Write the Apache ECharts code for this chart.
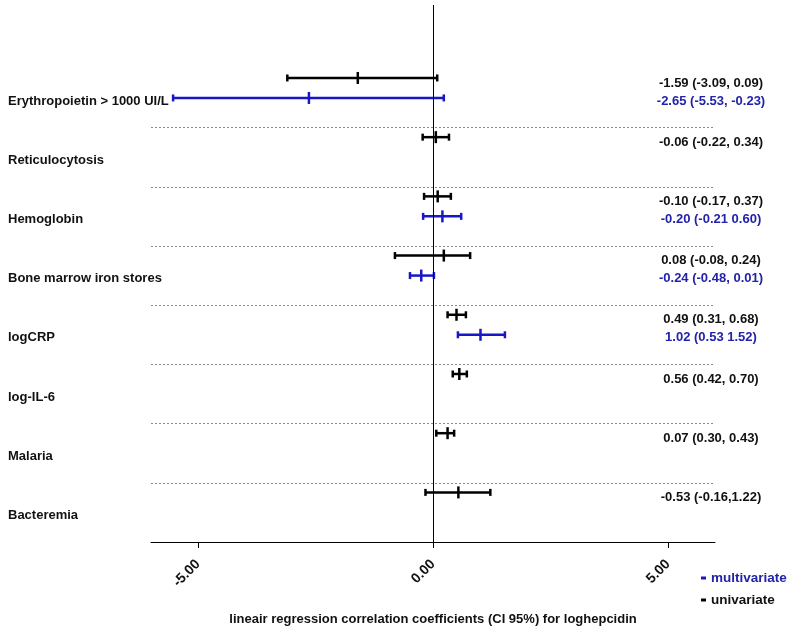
<!DOCTYPE html>
<html>
<head>
<meta charset="utf-8">
<script src="https://cdn.jsdelivr.net/npm/echarts@6/dist/echarts.min.js"></script>
<style>html,body{margin:0;padding:0;background:#fff}#c{width:791px;height:631px}</style>
</head>
<body>
<div id="c"></div>
<script>
const categories = ['Erythropoietin > 1000 UI/L','Reticulocytosis','Hemoglobin','Bone marrow iron stores','logCRP','log-IL-6','Malaria','Bacteremia'];
const uniEst = [-1.60, 0.06, 0.10, 0.23, 0.50, 0.56, 0.31, 0.54];
const uniLo  = [-3.10, -0.22, -0.19, -0.81, 0.31, 0.42, 0.07, -0.16];
const uniHi  = [0.09, 0.34, 0.38, 0.79, 0.70, 0.72, 0.45, 1.22];
const multiEst = [-2.64, null, 0.20, -0.25, 1.01, null, null, null];
const multiLo  = [-5.53, null, -0.21, -0.49, 0.53, null, null, null];
const multiHi  = [0.23, null, 0.60, 0.02, 1.53, null, null, null];
const uniText = ['-1.59 (-3.09, 0.09)','-0.06 (-0.22, 0.34)','-0.10 (-0.17, 0.37)','0.08 (-0.08, 0.24)','0.49 (0.31, 0.68)','0.56 (0.42, 0.70)','0.07 (0.30, 0.43)','-0.53 (-0.16,1.22)'];
const multiText = ['-2.65 (-5.53, -0.23)', null, '-0.20 (-0.21 0.60)', '-0.24 (-0.48, 0.01)', '1.02 (0.53 1.52)', null, null, null];
const xTicks = [-5, 0, 5];
const separators = [1, 2, 3, 4, 5, 6, 7];

const BLUE = '#1717c8';
const BLUE_TXT = '#2222aa';
const FONT = '"Liberation Sans", Arial, sans-serif';

function makeRender(color, txtColor, dy, tdy) {
  return function (params, api) {
    const i = api.value(0);
    const lo = api.value(1), est = api.value(2), hi = api.value(3);
    const cy = api.coord([0, i + 0.5])[1] + dy;
    const xl = api.coord([lo, 0])[0], xm = api.coord([est, 0])[0], xh = api.coord([hi, 0])[0];
    const st = { stroke: color, lineWidth: 2.5 };
    const txtX = api.coord([6, 0])[0] - 4;
    const label = params.seriesName === 'univariate' ? uniText[i] : multiText[i];
    return {
      type: 'group',
      children: [
        { type: 'line', shape: { x1: xl, y1: cy, x2: xh, y2: cy }, style: st },
        { type: 'line', shape: { x1: xl, y1: cy - 3.5, x2: xl, y2: cy + 3.5 }, style: st },
        { type: 'line', shape: { x1: xh, y1: cy - 3.5, x2: xh, y2: cy + 3.5 }, style: st },
        { type: 'line', shape: { x1: xm, y1: cy - 6, x2: xm, y2: cy + 6 }, style: st },
        { type: 'text', style: { x: txtX, y: cy + tdy, text: label || '', fill: txtColor,
            font: 'bold 13px ' + FONT, textAlign: 'center', textVerticalAlign: 'middle' } }
      ]
    };
  };
}

const uniData = categories.map((c, i) => [i, uniLo[i], uniEst[i], uniHi[i]]);
const multiData = categories.map((c, i) => [i, multiLo[i], multiEst[i], multiHi[i]]).filter(d => d[2] !== null);

const chart = echarts.init(document.getElementById('c'));
chart.setOption({
  animation: false,
  backgroundColor: '#fff',
  grid: { left: 151, right: 76, top: 5, bottom: 82 },
  xAxis: {
    type: 'value', min: -6, max: 6,
    name: 'lineair regression correlation coefficients (CI 95%) for loghepcidin',
    nameLocation: 'middle', nameGap: 71,
    nameTextStyle: { fontFamily: FONT, fontWeight: 'bold', fontSize: 13, color: '#111' },
    axisLine: { show: true, onZero: false, lineStyle: { color: '#000', width: 1 } },
    axisTick: { show: true, length: 6, customValues: xTicks, lineStyle: { color: '#000' } },
    axisLabel: { show: true, customValues: xTicks, rotate: 45, margin: 20,
      formatter: v => v.toFixed(2), fontFamily: FONT, fontWeight: 'bold', fontSize: 14, color: '#111' },
    splitLine: { show: false }
  },
  yAxis: { type: 'value', inverse: true, min: -1.07, max: 8, show: false },
  legend: {
    orient: 'vertical', left: 696, top: 566, itemGap: 8,
    icon: 'rect', itemWidth: 5, itemHeight: 3,
    textStyle: { fontFamily: FONT, fontWeight: 'bold', fontSize: 13.5 },
    data: [
      { name: 'multivariate', textStyle: { color: BLUE_TXT } },
      { name: 'univariate', textStyle: { color: '#111' } }
    ]
  },
  series: [
    {
      name: 'univariate', type: 'custom', color: '#000', clip: false,
      renderItem: makeRender('#000', '#111', -20, 5),
      data: uniData,
      markLine: {
        silent: true, symbol: 'none', label: { show: false },
        data: separators.map(s => ({ yAxis: s, lineStyle: { color: '#8a8a8a', type: [2, 2], width: 1 } }))
          .concat([{ xAxis: 0, lineStyle: { color: '#000', type: 'solid', width: 1 } }])
      }
    },
    {
      name: 'multivariate', type: 'custom', color: BLUE, clip: false,
      renderItem: makeRender(BLUE, BLUE_TXT, 0, 3),
      data: multiData
    },
    {
      name: 'labels', type: 'custom', clip: false, silent: true,
      renderItem: function (params, api) {
        const i = api.value(0);
        const cy = api.coord([0, i + 0.5])[1];
        return { type: 'text', style: { x: 8, y: cy + 3, text: categories[i], fill: '#111',
          font: 'bold 13px ' + FONT, textAlign: 'left', textVerticalAlign: 'middle' } };
      },
      data: categories.map((c, i) => [i])
    }
  ]
});
</script>
</body>
</html>
